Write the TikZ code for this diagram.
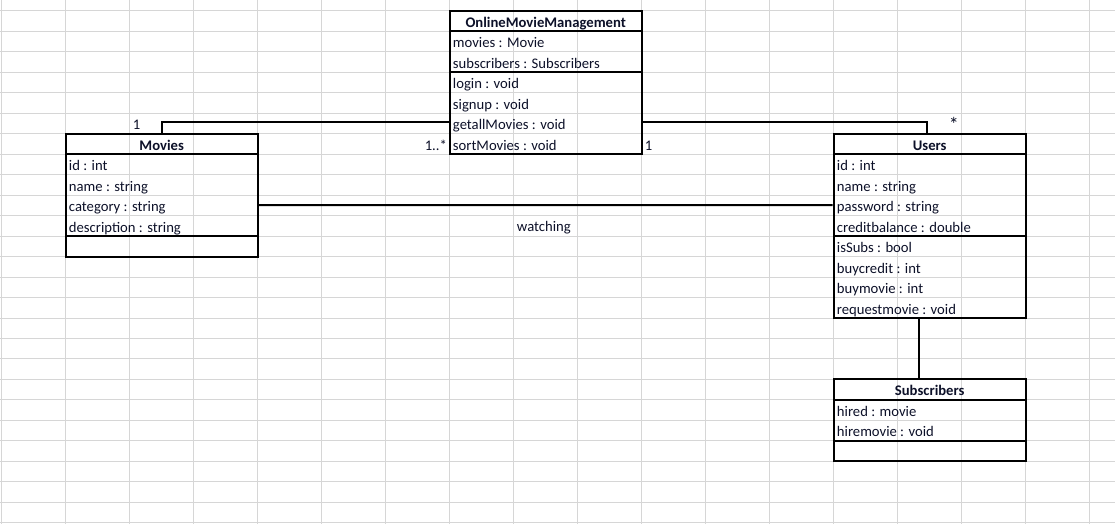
\documentclass[tikz,border=0pt]{standalone}
\usepackage{fontspec}
\setmainfont{Carlito}
\usetikzlibrary{fit}
\definecolor{gridc}{HTML}{D6D6D6}
\definecolor{txt}{HTML}{0C1028}
\tikzset{
  gridline/.style={draw=gridc, line width=0.75pt},
  classbox/.style={draw=black, line width=1.5pt, inner sep=0pt},
  sepline/.style={draw=black, line width=1.5pt},
  conn/.style={draw=black, line width=1.5pt},
  cell/.style={anchor=base west, inner sep=0pt, text=txt, font=\fontsize{11pt}{13pt}\selectfont},
  head/.style={anchor=base, inner sep=0pt, text=txt, font=\fontsize{11pt}{13pt}\selectfont\bfseries},
  lbl/.style={inner sep=0pt, text=txt, font=\fontsize{11pt}{13pt}\selectfont},
}
\begin{document}
\begin{tikzpicture}[x=0.75pt, y=-0.75pt]
\useasboundingbox (0,0) rectangle (1115,524);
% spreadsheet grid
\foreach \k in {0,...,25} { \draw[gridline] (0,{11+20.47*\k}) -- (1115,{11+20.47*\k}); }
\foreach \k in {0,...,17} { \draw[gridline] ({1.7+64*\k},0) -- ({1.7+64*\k},524); }

% OnlineMovieManagement
\node[classbox, fit={(449.7,11) (641.7,154.29)}] (omm) {};
\draw[sepline] (449.7,31.47) -- (641.7,31.47);
\draw[sepline] (449.7,72.41) -- (641.7,72.41);
\node[head] (ommh) at (545.7,27.1) {OnlineMovieManagement};
\node[cell] (omm1) at (452.7,47.9) {movies : Movie};
\node[cell] (omm2) at (452.7,68.4) {subscribers : Subscribers};
\node[cell] (omm3) at (452.7,88.9) {login : void};
\node[cell] (omm4) at (452.7,109.3) {signup : void};
\node[cell] (omm5) at (452.7,129.8) {getallMovies : void};
\node[cell] (omm6) at (452.7,150.3) {sortMovies : void};

% Movies
\node[classbox, fit={(65.7,133.82) (257.7,256.64)}] (movies) {};
\draw[sepline] (65.7,154.29) -- (257.7,154.29);
\draw[sepline] (65.7,236.17) -- (257.7,236.17);
\node[head] (moviesh) at (161.7,150.3) {Movies};
\node[cell] (mov1) at (68.7,170.8) {id : int};
\node[cell] (mov2) at (68.7,191.2) {name : string};
\node[cell] (mov3) at (68.7,211.7) {category : string};
\node[cell] (mov4) at (68.7,232.2) {description : string};

% Users
\node[classbox, fit={(833.7,133.82) (1025.7,318.05)}] (users) {};
\draw[sepline] (833.7,154.29) -- (1025.7,154.29);
\draw[sepline] (833.7,236.17) -- (1025.7,236.17);
\node[head] (usersh) at (929.7,150.3) {Users};
\node[cell] (us1) at (836.7,170.8) {id : int};
\node[cell] (us2) at (836.7,191.2) {name : string};
\node[cell] (us3) at (836.7,211.7) {password : string};
\node[cell] (us4) at (836.7,232.2) {creditbalance : double};
\node[cell] (us5) at (836.7,252.6) {isSubs : bool};
\node[cell] (us6) at (836.7,273.1) {buycredit : int};
\node[cell] (us7) at (836.7,293.6) {buymovie : int};
\node[cell] (us8) at (836.7,314.1) {requestmovie : void};

% Subscribers
\node[classbox, fit={(833.7,379.46) (1025.7,461.34)}] (subs) {};
\draw[sepline] (833.7,399.93) -- (1025.7,399.93);
\draw[sepline] (833.7,440.87) -- (1025.7,440.87);
\node[head] (subsh) at (929.7,395.9) {Subscribers};
\node[cell] (sub1) at (836.7,416.4) {hired : movie};
\node[cell] (sub2) at (836.7,436.9) {hiremovie : void};

% connectors
\draw[conn] (movies.north) |- ([yshift=-29.55pt]omm.west);
\draw[conn] ([yshift=-29.55pt]omm.east) -| ([xshift=-2pt]users.north);
\draw[conn] ([yshift=-7.33pt]movies.east) -- ([yshift=15.70pt]users.west);
\draw[conn] ([xshift=-8pt]users.south) -- ([xshift=-8pt]subs.north);

% labels
\node[lbl, anchor=base west] (m1) at (132.7,129.6) {1};
\node[lbl, anchor=base east] (m2) at (447.2,150.3) {1..*};
\node[lbl, anchor=base west] (u1) at (644.7,150.3) {1};
\node[lbl, anchor=base east, font=\fontsize{15pt}{17pt}\selectfont] (u2) at (959,131.5) {*};
\node[lbl, anchor=base west] (w) at (516.7,231.9) {watching};
\end{tikzpicture}
\end{document}
